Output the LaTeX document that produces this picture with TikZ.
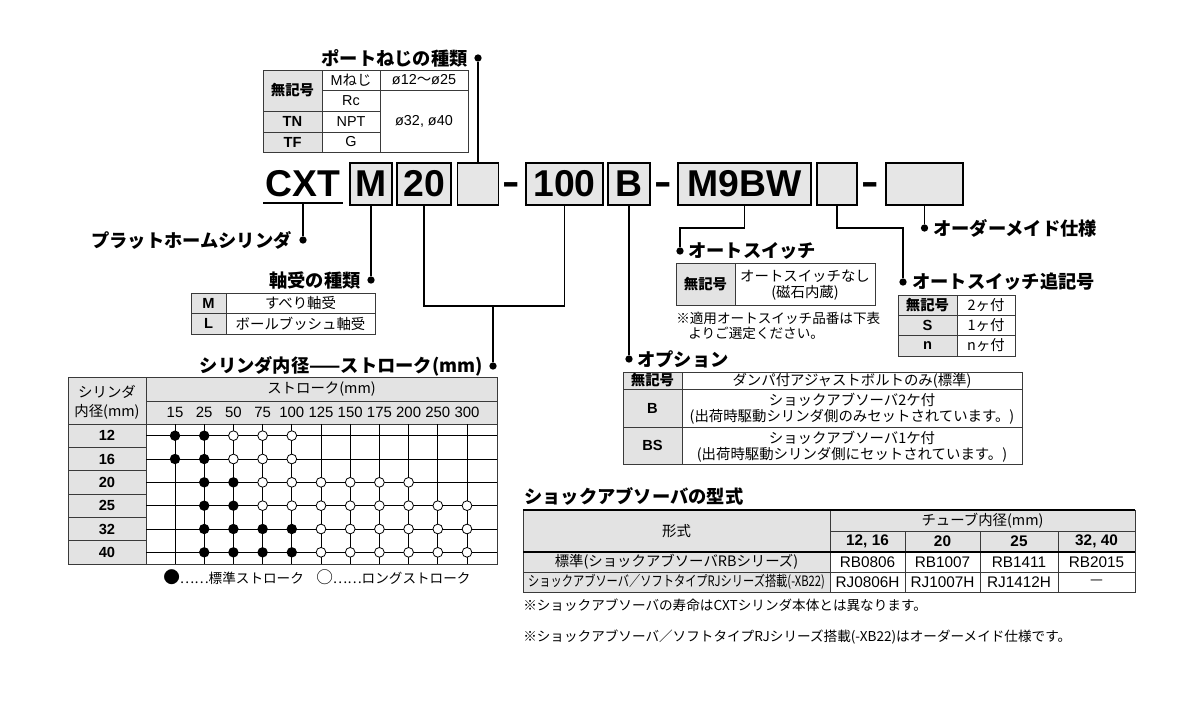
\documentclass[tikz,border=0pt]{standalone}
\usepackage{fontspec}
\setmainfont{Noto Sans CJK JP}
\newfontfamily\helv{Liberation Sans}
\usetikzlibrary{positioning}

\definecolor{cellgray}{HTML}{E3E3E3}
\definecolor{boxgray}{HTML}{E6E6E6}
\definecolor{rulegray}{HTML}{3A3A3A}

\begin{document}
\begin{tikzpicture}[x=0.75pt, y=-0.75pt,
    every node/.style={inner sep=0pt, font=\fontsize{10.8}{12}\selectfont},
    ttl/.style={font=\bfseries\fontsize{13.7}{16}\selectfont},
    hd/.style={font=\bfseries\fontsize{10.8}{12}\selectfont},
    note/.style={font=\fontsize{10.2}{12}\selectfont},
    lat/.style={font=\helv\fontsize{10.8}{12}\selectfont},
    latb/.style={font=\helv\bfseries\fontsize{11}{12}\selectfont},
    codetext/.style={font=\helv\bfseries\fontsize{28}{30}\selectfont},
    codebox/.style={codetext, draw, line width=1pt, fill=boxgray, minimum width=#1*0.75pt, minimum height=31.5pt},
    leadtip/.style={circle, fill, minimum size=5.5pt},
    leader/.style={line width=0.9pt},
    tab/.style={draw=rulegray, line width=0.6pt},
    stdmark/.style={circle, fill, minimum size=7.8pt},
    longmark/.style={circle, draw, fill=white, line width=0.6pt, minimum size=7.3pt}
  ]
  \path[use as bounding box, fill=white] (0,0) rectangle (1198,700);

  % Model code
  \node[codetext] (cxt) at (303,184) {CXT};
  \draw[line width=1.1pt] (263,203) -- (343,203);
  \coordinate (cxtu) at (303,203);
  \node[codebox=42] (bm) at (371,184) {M};
  \node[codebox=54] (b20) at (424,184) {20};
  \node[codebox=41] (be1) at (478,184) {};
  \node[codetext, anchor=base, xscale=1.4] (d1) at (511,194.5) {-};
  \node[codebox=77] (b100) at (564.5,184) {100};
  \node[codebox=42] (bb) at (629,184) {B};
  \node[codetext, anchor=base, xscale=1.4] (d2) at (663.5,194.5) {-};
  \node[codebox=133] (bsw) at (744.5,184) {M9BW};
  \node[codebox=40] (be2) at (837,184) {};
  \node[codetext, anchor=base, xscale=1.4] (d3) at (870.5,194.5) {-};
  \node[codebox=77] (be3) at (924.5,184) {};

  % Port thread
  \node[leadtip] (pdot) at (478,58) {};
  \node[ttl, anchor=east] (ptitle) at (468,58) {ポートねじの種類};
  \draw[leader] (be1.north) -- (pdot);
  \filldraw[fill=cellgray, tab] (263,70) rectangle (322,152);
  \draw[tab] (263,70) rectangle (468,152);
  \draw[tab] (322,70) -- (322,152) (380,70) -- (380,152)
    (322,90) -- (468,90) (263,111) -- (380,111) (263,132) -- (380,132);
  \node[hd] (p1) at (292.5,90.5) {無記号};
  \node[latb] (p2) at (292.5,121.5) {TN};
  \node[latb] (p3) at (292.5,142) {TF};
  \node (p4) at (351,80) {{\helv M}ねじ};
  \node[lat] (p5) at (351,100.5) {Rc};
  \node[lat] (p6) at (351,121.5) {NPT};
  \node[lat] (p7) at (351,142) {G};
  \node (p8) at (424,80) {{\helv ø12}〜{\helv ø25}};
  \node[lat] (p9) at (424,121) {ø32, ø40};

  % Cylinder
  \node[leadtip] (cdot) at (303,240) {};
  \node[ttl, anchor=east] (ctitle) at (292,240) {プラットホームシリンダ};
  \draw[leader] (cxtu) -- (cdot);

  % Bearing
  \node[leadtip] (bdot) at (371,280) {};
  \node[ttl, anchor=east] (btitle) at (361,280) {軸受の種類};
  \draw[leader] (bm.south) -- (bdot);
  \filldraw[fill=cellgray, tab] (191,293) rectangle (226,334);
  \draw[tab] (191,293) rectangle (375,334) (191,313) -- (375,313);
  \node[latb] (b1) at (208.5,303) {M};
  \node[latb] (b2) at (208.5,323.5) {L};
  \node (b3) at (300.5,303) {すべり軸受};
  \node (b4) at (300.5,323.5) {ボールブッシュ軸受};

  % Bore / stroke
  \node[leadtip] (sdot) at (493,366) {};
  \node[ttl, anchor=east] (stitle) at (483,366) {シリンダ内径——ストローク(mm)};
  \coordinate (sjoin) at (493,306);
  \draw[leader] (b20.south) |- (sjoin) -- (sdot);
  \draw[leader] (b100.south) |- (sjoin);
  \fill[cellgray] (68,377) rectangle (497,424);
  \fill[cellgray] (68,424) rectangle (146,564);
  \draw[tab] (68,377) rectangle (497,564);
  \draw[tab] (146,377) -- (146,564) (146,401) -- (497,401) (68,424) -- (497,424);
  \foreach \j in {1,...,5}
    \draw[tab] (68,424+23.33*\j) -- (146,424+23.33*\j);
  \node[align=center, font=\fontsize{10.8}{14.3}\selectfont] (shead) at (107,402) {シリンダ\\内径(mm)};
  \node (strk) at (321.5,389) {ストローク(mm)};
  \foreach \s [count=\i from 0] in {15,25,50,75,100,125,150,175,200,250,300}{
    \node[lat, font=\helv\fontsize{11.2}{12}\selectfont] (s\i) at (175+29.2*\i,412.5) {\s};
    \draw[line width=0.7pt] (175+29.2*\i,424) -- (175+29.2*\i,564);
  }
  \foreach \d [count=\j from 0] in {12,16,20,25,32,40}{
    \node[latb] (r\j) at (107,435.67+23.33*\j) {\d};
    \draw[line width=0.7pt] (146,435.67+23.33*\j) -- (497,435.67+23.33*\j);
  }
  \foreach \r/\fa/\fb/\oa/\ob in {0/0/1/2/4,1/0/1/2/4,2/1/2/3/8,3/1/2/3/10,4/1/4/5/10,5/1/4/5/10}{
    \foreach \c in {\fa,...,\fb}
      \node[stdmark] (f\r\c) at (175+29.2*\c,435.67+23.33*\r) {};
    \foreach \c in {\oa,...,\ob}
      \node[longmark] (o\r\c) at (175+29.2*\c,435.67+23.33*\r) {};
  }
  \node[note, anchor=west] (leg1) at (163,577) {{\fontsize{12.5}{12}\selectfont ●}……標準ストローク};
  \node[note, anchor=west] (leg2) at (316,577) {{\fontsize{12.5}{12}\selectfont ○}……ロングストローク};

  % Option
  \node[leadtip] (odot) at (629,359) {};
  \node[ttl, anchor=west] (otitle) at (637,359) {オプション};
  \draw[leader] (bb.south) -- (odot);
  \filldraw[fill=cellgray, tab] (623,372) rectangle (682,464);
  \draw[tab] (623,372) rectangle (1022,464) (623,389) -- (1022,389) (623,427) -- (1022,427);
  \node[hd] (o1) at (652.5,380.5) {無記号};
  \node[latb] (o2) at (652.5,408) {B};
  \node[latb] (o3) at (652.5,445.5) {BS};
  \node (o4) at (852,380.5) {ダンパ付アジャストボルトのみ(標準)};
  \node[align=center, font=\fontsize{10.8}{11.8}\selectfont] (o5) at (852,409) {ショックアブソーバ2ケ付\\(出荷時駆動シリンダ側のみセットされています。)};
  \node[align=center, font=\fontsize{10.8}{11.8}\selectfont] (o6) at (852,446.5) {ショックアブソーバ1ケ付\\(出荷時駆動シリンダ側にセットされています。)};

  % Auto switch
  \node[leadtip] (adot) at (680,251) {};
  \node[ttl, anchor=west] (atitle) at (688,251) {オートスイッチ};
  \coordinate (abend) at (744.5,228);
  \draw[leader] (bsw.south) -- (abend) -| (adot);
  \filldraw[fill=cellgray, tab] (676,263) rectangle (735,305);
  \draw[tab] (676,263) rectangle (875,305);
  \node[hd] (a1) at (705.5,284) {無記号};
  \node[align=center, font=\fontsize{10.8}{12}\selectfont] (a2) at (805,285) {オートスイッチなし\\(磁石内蔵)};
  \node[note, anchor=west] (an1) at (676,318) {※適用オートスイッチ品番は下表};
  \node[note, anchor=west] (an2) at (688,333) {よりご選定ください。};

  % Auto switch suffix
  \node[leadtip] (xdot) at (903,282) {};
  \node[ttl, anchor=west] (xtitle) at (912,282) {オートスイッチ追記号};
  \coordinate (xbend) at (837,228);
  \draw[leader] (be2.south) -- (xbend) -| (xdot);
  \filldraw[fill=cellgray, tab] (898,295) rectangle (957,356);
  \draw[tab] (898,295) rectangle (1015,356) (898,315) -- (1015,315) (898,335) -- (1015,335);
  \node[hd] (x1) at (927.5,305) {無記号};
  \node[latb] (x2) at (927.5,325) {S};
  \node[latb] (x3) at (927.5,345.5) {n};
  \node (x4) at (986,305) {2ヶ付};
  \node (x5) at (986,325) {1ヶ付};
  \node (x6) at (986,345.5) {nヶ付};

  % Made to order
  \node[leadtip] (mdot) at (924.5,228) {};
  \node[ttl, anchor=west] (mtitle) at (933,228) {オーダーメイド仕様};
  \draw[leader] (be3.south) -- (mdot);

  % Shock absorber models
  \node[ttl, anchor=west] (ktitle) at (524,496) {ショックアブソーバの型式};
  \fill[cellgray] (523,510) rectangle (1135,552);
  \fill[cellgray] (523,552) rectangle (830,592);
  \draw[tab] (523,510) rectangle (1135,592);
  \draw[tab] (830,510) -- (830,592) (830,531) -- (1135,531) (523,572) -- (1135,572)
    (905,531) -- (905,592) (980,531) -- (980,592) (1058,531) -- (1058,592);
  \draw[line width=1pt] (523,510) -- (1135,510) (523,552) -- (1135,552);
  \node (k1) at (676.5,531) {形式};
  \node (k2) at (982.5,520.5) {チューブ内径(mm)};
  \foreach \t/\x [count=\i] in {{12, 16}/867.5,20/942.5,25/1019,{32, 40}/1096.5}
    \node[font=\helv\bfseries\fontsize{11.5}{13}\selectfont] (kh\i) at (\x,541.5) {\t};
  \node (k3) at (676.5,562) {標準(ショックアブソーバRBシリーズ)};
  \node[xscale=0.78] (k4) at (676.5,582) {ショックアブソーバ／ソフトタイプRJシリーズ搭載(-XB22)};
  \foreach \t/\x [count=\i] in {RB0806/867.5,RB1007/942.5,RB1411/1019,RB2015/1096.5}
    \node[font=\helv\fontsize{11.5}{13}\selectfont] (kr\i) at (\x,562) {\t};
  \foreach \t/\x [count=\i] in {RJ0806H/867.5,RJ1007H/942.5,RJ1412H/1019}
    \node[font=\helv\fontsize{11.5}{13}\selectfont] (kj\i) at (\x,582) {\t};
  \node (kj4) at (1096.5,582) {—};
  \node[note, anchor=west] (kn1) at (523,605) {※ショックアブソーバの寿命はCXTシリンダ本体とは異なります。};
  \node[note, anchor=west] (kn2) at (523,637) {※ショックアブソーバ／ソフトタイプRJシリーズ搭載(-XB22)はオーダーメイド仕様です。};
\end{tikzpicture}
\end{document}
